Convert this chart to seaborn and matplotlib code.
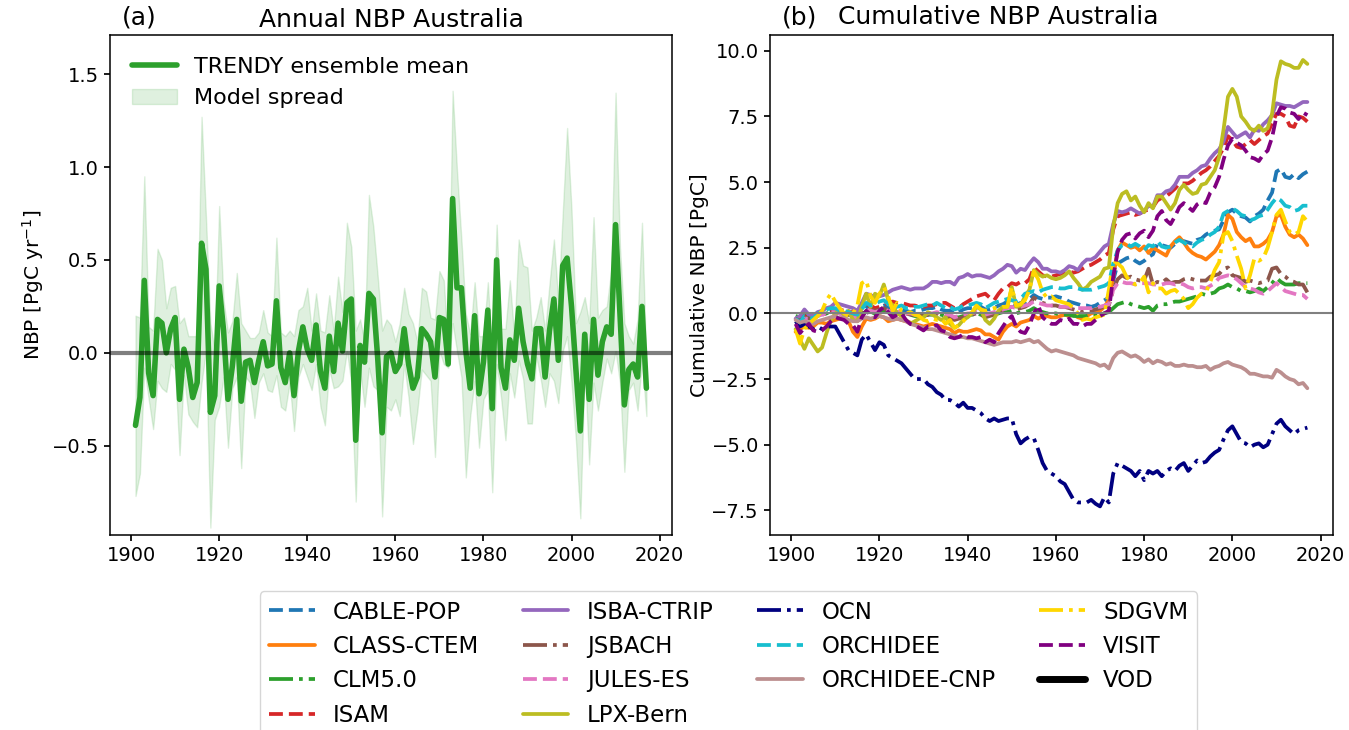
import matplotlib
matplotlib.use("Agg")
import matplotlib.pyplot as plt
import seaborn as sns
from matplotlib.patches import Patch
from matplotlib.lines import Line2D

# ---------------- data ----------------
years = list(range(1901, 2018))

ens_mean = [
    -0.39, -0.24, 0.39, -0.11, -0.23, 0.18, 0.16, 0.00, 0.13, 0.19,
    -0.25, 0.02, -0.08, -0.24, -0.16, 0.59, 0.45, -0.32, -0.23, 0.36,
    0.12, -0.25, -0.07, 0.18, -0.26, -0.05, -0.04, -0.16, -0.04, 0.06,
    -0.07, -0.06, 0.28, -0.08, -0.16, 0.00, -0.23, 0.01, 0.14, 0.02,
    -0.04, 0.15, -0.10, -0.19, 0.09, -0.10, 0.16, 0.01, 0.27, 0.29,
    -0.47, 0.04, -0.05, 0.32, 0.29, -0.03, -0.43, -0.02, 0.00, -0.10,
    -0.06, 0.13, -0.06, -0.19, -0.13, 0.13, 0.10, 0.06, -0.13, 0.19,
    0.18, -0.06, 0.83, 0.35, 0.35, 0.01, -0.19, 0.20, -0.22, -0.05,
    0.23, -0.30, 0.50, -0.08, -0.19, 0.07, -0.04, 0.24, 0.06, -0.06,
    -0.14, 0.13, 0.13, -0.13, 0.12, 0.29, -0.04, 0.47, 0.51, 0.25,
    -0.09, -0.42, 0.10, -0.25, 0.18, -0.12, 0.06, 0.14, 0.10, 0.69,
    0.21, -0.28, -0.09, -0.06, -0.13, 0.25, -0.19]

spread_max = [
    0.20, 0.19, 0.95, 0.14, 0.12, 0.56, 0.50, 0.24, 0.35, 0.36,
    0.16, 0.19, 0.09, 0.09, 0.09, 1.27, 0.73, 0.16, 0.01, 0.79,
    0.28, 0.11, 0.17, 0.43, 0.16, 0.12, 0.08, 0.08, 0.11, 0.23,
    0.11, 0.09, 0.62, 0.11, 0.09, 0.12, 0.09, 0.23, 0.25, 0.35,
    0.12, 0.32, 0.12, 0.11, 0.31, 0.12, 0.41, 0.22, 0.70, 0.57,
    0.12, 0.18, 0.06, 0.85, 0.68, 0.41, 0.12, 0.18, 0.15, 0.06,
    0.16, 0.35, 0.21, 0.16, 0.06, 0.35, 0.33, 0.19, 0.18, 0.44,
    0.39, 0.01, 1.41, 0.98, 0.61, 0.21, 0.10, 0.38, 0.09, 0.09,
    0.38, -0.02, 0.69, 0.13, 0.13, 0.39, 0.09, 0.61, 0.47, 0.46,
    0.12, 0.19, 0.30, 0.12, 0.37, 0.61, 0.28, 0.75, 1.21, 0.77,
    0.16, 0.22, 0.30, 0.16, 0.73, 0.19, 0.23, 0.25, 0.44, 1.40,
    0.57, 0.16, 0.09, 0.05, 0.18, 0.70, -0.06]

spread_min = [
    -0.77, -0.65, -0.08, -0.25, -0.41, -0.15, -0.19, -0.21, -0.06, -0.09,
    -0.55, -0.12, -0.33, -0.37, -0.40, -0.16, 0.01, -0.94, -0.36, -0.29,
    -0.13, -0.51, -0.19, -0.13, -0.62, -0.13, -0.16, -0.35, -0.16, -0.11,
    -0.20, -0.21, -0.12, -0.29, -0.31, -0.16, -0.42, -0.13, -0.06, -0.13,
    -0.20, -0.06, -0.29, -0.39, -0.09, -0.19, -0.18, -0.15, 0.01, -0.16,
    -0.80, -0.09, -0.29, -0.08, -0.18, -0.20, -0.88, -0.29, -0.31, -0.25,
    -0.34, -0.06, -0.24, -0.49, -0.31, -0.09, -0.12, -0.15, -0.56, 0.01,
    -0.06, -0.08, 0.16, 0.01, -0.13, -0.67, -0.34, -0.15, -0.51, -0.25,
    -0.20, -0.75, -0.06, -0.24, -0.47, -0.11, -0.24, -0.04, -0.14, -0.38,
    -0.38, -0.02, -0.14, -0.29, -0.11, -0.15, -0.27, 0.01, 0.09, -0.16,
    -0.47, -0.89, -0.06, -0.60, -0.16, -0.31, -0.16, -0.03, -0.11, 0.01,
    -0.16, -0.64, -0.20, -0.16, -0.31, -0.04, -0.34]

cable_pop = [
    -0.2, -0.3, -0.1, -0.15, -0.2, -0.05, 0.0, 0.05, 0.1, 0.1,
    0.05, 0.0, 0.0, -0.05, -0.1, 0.1, 0.25, 0.2, 0.15, 0.25,
    0.3, 0.2, 0.2, 0.15, 0.15, 0.1, 0.05, 0.1, 0.1, 0.15,
    0.2, 0.2, 0.25, 0.15, 0.1, 0.1, 0.0, 0.05, 0.15, 0.2,
    0.2, 0.3, 0.25, 0.15, 0.15, 0.2, 0.3, 0.35, 0.45, 0.4,
    0.3, 0.4, 0.4, 0.55, 0.7, 0.6, 0.55, 0.6, 0.6, 0.65,
    0.6, 0.55, 0.45, 0.4, 0.35, 0.3, 0.3, 0.25, 0.3, 0.4,
    0.5, 0.6, 1.25, 1.9, 2.0, 2.1, 2.15, 2.0, 1.9, 2.0,
    2.15, 2.25, 2.65, 2.6, 2.55, 2.5, 2.65, 2.8, 2.75, 2.7,
    2.65, 2.8, 2.85, 3.0, 3.1, 3.15, 3.2, 3.55, 3.85, 3.95,
    3.8, 3.7, 3.65, 3.5, 3.7, 3.8, 3.95, 4.3, 4.6, 5.4,
    5.5, 5.2, 5.15, 5.3, 5.15, 5.3, 5.4]

class_ctem = [
    -0.7, -0.6, -0.5, -0.55, -0.5, -0.35, -0.35, -0.4, -0.3, -0.25,
    -0.2, -0.15, -0.3, -0.7, -0.9, -0.5, -0.2, -0.25, -0.2, -0.1,
    -0.15, -0.3, -0.25, -0.2, -0.25, -0.3, -0.35, -0.4, -0.45, -0.5,
    -0.45, -0.4, -0.45, -0.5, -0.55, -0.6, -0.75, -0.65, -0.7, -0.7,
    -0.65, -0.6, -0.65, -0.8, -0.8, -0.9, -1.0, -0.7, -0.5, -0.4,
    -0.5, -0.35, -0.3, -0.25, -0.1, -0.2, -0.1, -0.1, -0.15, -0.15,
    -0.1, -0.05, -0.1, -0.05, -0.15, -0.2, -0.1, 0.0, 0.05, 0.1,
    0.25, 0.5, 1.4, 2.4, 2.7, 2.6, 2.5, 2.55, 2.4, 2.55,
    2.3, 2.5, 2.4, 2.3, 2.2, 2.55, 2.75, 2.9, 2.7, 2.45,
    2.3, 2.2, 2.15, 2.05, 2.2, 2.35, 2.6, 3.0, 3.75, 3.6,
    3.1, 2.9, 2.75, 2.85, 2.55, 2.55, 2.65, 2.8, 3.1, 3.7,
    3.75, 3.3, 3.0, 2.9, 3.0, 2.85, 2.6]

clm50 = [
    -0.1, -0.15, -0.1, -0.1, -0.15, -0.1, -0.05, 0.0, 0.05, 0.05,
    0.0, 0.0, -0.05, -0.05, -0.1, 0.0, 0.05, 0.05, 0.0, 0.05,
    0.1, 0.05, 0.0, 0.0, 0.0, -0.05, -0.05, -0.1, -0.1, -0.1,
    -0.05, -0.05, 0.0, -0.05, -0.1, -0.1, -0.15, -0.15, -0.1, -0.05,
    -0.05, 0.0, -0.05, -0.1, -0.05, -0.05, 0.0, 0.05, 0.05, 0.1,
    0.0, 0.05, 0.05, 0.1, 0.2, 0.1, 0.05, 0.0, 0.0, 0.0,
    -0.05, -0.05, -0.05, -0.1, -0.1, -0.1, -0.1, -0.05, -0.05, 0.0,
    0.0, 0.05, 0.2, 0.35, 0.4, 0.45, 0.35, 0.3, 0.25, 0.2,
    0.25, 0.1, 0.3, 0.35, 0.35, 0.4, 0.45, 0.45, 0.5, 0.55,
    0.6, 0.65, 0.75, 0.7, 0.75, 0.8, 0.95, 1.0, 1.1, 1.0,
    0.95, 0.85, 0.85, 0.8, 0.85, 0.95, 0.85, 1.0, 1.15, 1.35,
    1.2, 1.1, 1.1, 1.1, 1.15, 1.15, 1.15]

isam = [
    -0.25, -0.3, -0.1, -0.2, -0.1, 0.0, 0.05, 0.1, 0.05, 0.1,
    0.15, 0.1, 0.05, 0.05, 0.1, 0.2, 0.35, 0.3, 0.2, 0.25,
    0.35, 0.4, 0.45, 0.4, 0.4, 0.35, 0.3, 0.3, 0.25, 0.25,
    0.3, 0.3, 0.35, 0.4, 0.4, 0.3, 0.2, 0.2, 0.35, 0.45,
    0.55, 0.65, 0.7, 0.75, 0.6, 0.5, 0.75, 0.95, 1.0, 1.15,
    1.1, 1.2, 1.15, 1.3, 1.75, 1.6, 1.45, 1.4, 1.4, 1.45,
    1.5, 1.55, 1.6, 1.55, 1.6, 1.7, 1.8, 1.85, 1.95, 2.05,
    2.2, 2.3, 3.2, 3.7, 3.75, 3.8, 3.85, 3.75, 3.8, 3.9,
    3.95, 4.05, 4.3, 4.4, 4.45, 4.6, 4.75, 4.95, 4.95, 4.95,
    5.05, 5.2, 5.35, 5.45, 5.6, 5.8, 6.0, 6.3, 6.75, 6.6,
    6.35, 6.3, 6.45, 6.6, 6.45, 6.6, 6.75, 6.85, 7.25, 7.6,
    7.6, 7.5, 7.15, 7.1, 7.5, 7.45, 7.3]

isba_ctrip = [
    -0.2, -0.1, 0.15, -0.05, -0.1, 0.05, 0.1, 0.2, 0.25, 0.4,
    0.35, 0.3, 0.25, 0.2, 0.1, 0.4, 0.75, 0.7, 0.6, 0.65,
    0.7, 0.8, 0.9, 0.95, 1.0, 0.95, 0.9, 0.95, 0.95, 0.95,
    1.05, 1.2, 1.2, 1.15, 1.2, 1.2, 1.1, 1.35, 1.4, 1.5,
    1.4, 1.45, 1.45, 1.4, 1.35, 1.45, 1.6, 1.7, 1.85, 1.8,
    1.55, 1.7, 1.65, 1.9, 2.1, 1.95, 1.7, 1.7, 1.6, 1.6,
    1.55, 1.65, 1.8, 1.75, 1.65, 1.9, 2.05, 2.05, 2.15, 2.35,
    2.55, 2.65, 3.4, 3.9, 3.85, 3.9, 4.0, 3.9, 3.8, 3.9,
    4.1, 4.05, 4.5, 4.5, 4.65, 4.7, 4.9, 5.2, 5.2, 5.2,
    5.35, 5.45, 5.6, 5.65, 5.9, 6.1, 6.25, 6.55, 7.1, 6.9,
    6.7, 6.8, 6.9, 6.7, 7.0, 6.95, 7.2, 7.35, 7.55, 8.0,
    7.95, 7.9, 7.9, 7.85, 7.95, 8.05, 8.05]

jsbach = [
    -0.2, -0.3, -0.15, -0.2, -0.2, -0.1, -0.05, 0.0, 0.05, 0.05,
    0.0, 0.0, -0.05, -0.1, -0.1, 0.05, 0.2, 0.15, 0.1, 0.15,
    0.2, 0.1, 0.05, 0.05, 0.0, 0.0, -0.05, -0.05, -0.1, -0.1,
    -0.05, -0.05, 0.0, -0.1, -0.15, -0.15, -0.25, -0.2, -0.15, -0.1,
    -0.05, 0.0, -0.05, -0.15, -0.1, -0.05, 0.05, 0.1, 0.2, 0.25,
    0.15, 0.2, 0.25, 0.35, 0.6, 0.5, 0.4, 0.35, 0.3, 0.3,
    0.25, 0.25, 0.2, 0.15, 0.1, 0.05, 0.1, 0.1, 0.15, 0.2,
    0.25, 0.3, 0.9, 1.3, 1.45, 1.35, 1.4, 1.3, 1.25, 1.25,
    1.7, 1.1, 1.2, 1.15, 1.3, 1.15, 1.2, 1.2, 1.3, 1.35,
    1.3, 1.25, 1.25, 1.25, 1.4, 1.45, 1.5, 1.7, 1.75, 1.45,
    1.4, 1.35, 1.2, 1.25, 1.2, 1.15, 1.2, 1.25, 1.7, 1.75,
    1.5, 1.4, 1.25, 1.2, 1.1, 1.1, 0.8]

jules_es = [
    -0.3, -0.35, -0.2, -0.2, -0.25, -0.1, -0.05, 0.0, 0.05, 0.05,
    0.0, -0.05, -0.1, -0.15, -0.15, 0.0, 0.15, 0.1, 0.05, 0.1,
    0.15, 0.1, 0.05, 0.05, 0.05, 0.0, 0.0, -0.05, -0.05, -0.05,
    0.0, 0.0, 0.05, 0.0, -0.05, -0.05, -0.15, -0.1, -0.05, 0.0,
    0.0, 0.05, 0.0, -0.05, 0.0, 0.05, 0.1, 0.15, 0.2, 0.25,
    0.2, 0.25, 0.3, 0.35, 0.45, 0.4, 0.35, 0.3, 0.3, 0.3,
    0.25, 0.25, 0.25, 0.2, 0.2, 0.2, 0.2, 0.2, 0.25, 0.25,
    0.3, 0.35, 0.9, 1.15, 1.2, 1.15, 1.15, 1.1, 1.15, 1.15,
    1.15, 1.1, 1.1, 1.1, 1.15, 1.15, 1.1, 1.15, 1.1, 1.0,
    0.95, 1.0, 1.0, 0.95, 1.05, 1.15, 1.35, 1.4, 1.45, 1.4,
    1.3, 1.15, 1.0, 0.95, 0.9, 0.8, 0.75, 0.85, 1.0, 1.15,
    1.0, 0.85, 0.8, 0.75, 0.7, 0.7, 0.55]

lpx_bern = [
    -0.6, -1.0, -1.35, -0.95, -1.2, -1.45, -1.3, -0.75, -0.25, 0.0,
    0.1, -0.05, 0.1, -0.25, -0.3, 0.25, 0.75, 0.25, 0.75, 0.65,
    1.1, 0.5, 0.3, 0.0, -0.1, -0.25, -0.4, -0.3, -0.2, -0.15,
    0.05, -0.05, -0.15, -0.25, -0.15, -0.4, -0.55, -0.45, -0.25, -0.15,
    0.0, 0.25, 0.15, -0.25, -0.4, -0.2, 0.1, 0.25, 0.25, 1.0,
    0.25, 0.3, 0.65, 0.9, 1.65, 1.5, 1.4, 1.45, 1.35, 1.3,
    1.35, 1.45, 1.6, 1.35, 1.15, 0.9, 1.0, 1.2, 1.3, 1.4,
    1.7, 1.75, 3.3, 4.2, 4.55, 4.65, 4.3, 4.45, 4.1, 3.85,
    4.2, 4.0, 4.45, 4.45, 4.2, 3.95, 4.2, 4.7, 4.9, 4.7,
    4.55, 4.6, 4.9, 4.95, 5.2, 5.45, 5.95, 7.0, 8.25, 8.55,
    8.25, 7.5, 7.3, 7.05, 6.95, 7.15, 6.95, 7.05, 7.6, 8.9,
    9.6, 9.5, 9.45, 9.35, 9.35, 9.65, 9.5]

ocn = [
    -0.3, -0.5, -0.4, -0.5, -0.6, -0.5, -0.6, -0.5, -0.5, -0.5,
    -0.8, -1.1, -1.4, -1.5, -1.6, -1.0, -0.8, -1.1, -1.4, -1.1,
    -1.2, -1.6, -1.7, -1.8, -1.9, -2.1, -2.3, -2.5, -2.5, -2.5,
    -2.7, -2.8, -3.0, -3.1, -3.3, -3.3, -3.4, -3.55, -3.4, -3.6,
    -3.6, -3.7, -3.8, -4.0, -4.1, -4.0, -4.1, -4.05, -4.0, -4.0,
    -4.6, -4.95, -4.8, -4.7, -4.75, -5.2, -5.7, -6.0, -6.1, -6.2,
    -6.4, -6.5, -6.8, -7.1, -7.2, -7.2, -7.2, -7.1, -7.25, -7.35,
    -7.0, -7.2, -6.1, -5.7, -5.8, -5.9, -6.0, -6.2, -6.0, -6.35,
    -6.0, -6.1, -6.0, -6.2, -6.0, -5.9, -6.0, -5.8, -5.7, -6.0,
    -5.8, -5.6, -5.7, -5.65, -5.45, -5.3, -5.2, -4.8, -4.45, -4.3,
    -4.6, -4.9, -4.95, -5.1, -5.0, -4.95, -5.1, -5.0, -4.6, -4.2,
    -4.05, -4.3, -4.45, -4.6, -4.45, -4.4, -4.35]

orchidee = [
    -0.2, -0.35, -0.1, -0.15, -0.2, 0.0, 0.05, 0.15, 0.2, 0.2,
    0.1, 0.1, 0.05, 0.0, -0.05, 0.15, 0.4, 0.3, 0.35, 0.45,
    0.5, 0.35, 0.3, 0.25, 0.3, 0.2, 0.2, 0.25, 0.25, 0.3,
    0.35, 0.3, 0.4, 0.3, 0.2, 0.25, 0.15, 0.2, 0.3, 0.3,
    0.35, 0.4, 0.35, 0.2, 0.3, 0.4, 0.45, 0.5, 0.55, 0.5,
    0.45, 0.55, 0.75, 0.8, 0.85, 0.8, 0.9, 0.95, 1.0, 1.0,
    0.95, 0.95, 1.0, 1.0, 0.95, 0.9, 0.9, 0.9, 0.95, 1.0,
    1.05, 1.15, 1.9, 2.4, 2.6, 2.65, 2.55, 2.65, 2.55, 2.4,
    2.6, 2.55, 2.75, 2.55, 2.5, 2.55, 2.7, 2.8, 2.7, 2.6,
    2.55, 2.7, 2.8, 2.85, 3.0, 3.1, 3.3, 3.8, 3.9, 4.0,
    3.9, 3.75, 3.7, 3.55, 3.6, 3.7, 3.75, 3.95, 4.2, 4.4,
    4.3, 4.1, 4.05, 3.9, 3.95, 4.1, 4.1]

orchidee_cnp = [
    -0.25, -0.35, -0.3, -0.35, -0.4, -0.3, -0.25, -0.2, -0.15, -0.1,
    -0.2, -0.15, -0.25, -0.3, -0.3, -0.2, -0.15, -0.2, -0.15, -0.1,
    -0.15, -0.2, -0.25, -0.2, -0.25, -0.3, -0.4, -0.45, -0.5, -0.55,
    -0.6, -0.6, -0.65, -0.7, -0.75, -0.8, -0.85, -0.9, -0.9, -0.95,
    -0.95, -1.0, -1.05, -1.1, -1.15, -1.2, -1.15, -1.1, -1.1, -1.1,
    -1.05, -1.1, -1.05, -1.0, -1.1, -1.05, -1.2, -1.35, -1.45, -1.4,
    -1.45, -1.5, -1.55, -1.6, -1.7, -1.75, -1.8, -1.85, -1.9, -2.0,
    -1.95, -2.1, -1.7, -1.5, -1.45, -1.55, -1.65, -1.6, -1.7, -1.85,
    -1.75, -1.9, -1.8, -1.85, -1.95, -1.9, -2.0, -2.0, -1.95, -2.0,
    -2.0, -2.05, -2.05, -2.0, -2.15, -2.05, -2.0, -1.9, -1.85, -1.95,
    -2.0, -2.05, -2.15, -2.3, -2.3, -2.35, -2.4, -2.4, -2.45, -2.15,
    -2.25, -2.4, -2.5, -2.55, -2.7, -2.65, -2.85]

sdgvm = [
    -0.6, -1.15, -0.6, -0.4, -0.25, -0.1, 0.1, 0.5, 0.75, 0.45,
    0.2, 0.0, -0.1, 0.0, 0.3, 1.15, 1.25, 0.65, 0.4, 0.75,
    1.0, 0.65, 0.1, 0.4, 0.1, 0.0, 0.05, -0.05, -0.1, -0.25,
    -0.3, -0.2, -0.25, -0.2, -0.4, -0.25, -0.55, -0.45, -0.3, -0.1,
    0.05, 0.3, 0.15, 0.1, 0.15, 0.2, 0.2, 0.25, 0.25, 1.0,
    0.3, 0.35, 0.5, 0.9, 1.6, 1.3, 0.8, 0.6, 0.65, 0.5,
    0.45, 0.4, 0.35, 0.2, 0.0, -0.25, -0.2, -0.25, -0.15, -0.1,
    -0.05, 0.9, 2.0, 1.9, 1.75, 1.4, 1.2, 1.1, 1.15, 1.4,
    0.8, 1.15, 0.95, 0.95, 0.75, 0.85, 0.9, 0.75, 0.55, 0.2,
    0.35, 0.6, 0.75, 0.8, 1.2, 1.65, 1.95, 3.0, 3.1, 2.75,
    2.2, 1.7, 0.95, 1.45, 2.1, 2.0, 2.1, 2.5, 3.1, 3.75,
    3.95, 3.5, 3.1, 3.0, 3.1, 3.7, 3.5]

visit = [
    -0.4, -0.75, -0.55, -0.4, -0.65, -0.7, -0.65, -0.5, -0.3, -0.15,
    -0.2, -0.25, -0.4, -0.45, -0.7, -0.15, 0.1, -0.05, -0.15, 0.1,
    0.25, 0.05, -0.15, -0.05, 0.0, -0.25, -0.4, -0.45, -0.55, -0.65,
    -0.5, -0.5, -0.45, -0.65, -0.7, -0.9, -0.95, -0.9, -0.8, -0.9,
    -0.9, -0.95, -0.9, -1.1, -1.0, -1.1, -0.75, -0.5, -0.25, -0.1,
    -0.5, -0.7, -0.75, -0.45, 0.0, 0.3, -0.15, -0.3, -0.4, -0.4,
    -0.25, -0.3, -0.2, -0.4, -0.4, -0.5, -0.4, -0.4, -0.25, -0.1,
    0.0, 0.1, 1.4, 2.35, 2.8, 3.0, 3.05, 2.85, 3.05, 3.15,
    2.9, 3.15, 3.7, 3.9, 3.55, 3.4, 3.7, 4.05, 4.2, 4.05,
    3.9, 4.15, 4.25, 4.2, 4.6, 4.8, 5.2, 5.85, 6.4, 6.65,
    6.5, 6.4, 6.2, 5.95, 5.9, 5.8, 6.05, 6.2, 6.7, 7.5,
    7.85, 7.8, 7.65, 7.6, 7.4, 7.65, 7.55]

vod = []  # shown in legend only

model_names = ["CABLE-POP", "CLASS-CTEM", "CLM5.0", "ISAM", "ISBA-CTRIP",
               "JSBACH", "JULES-ES", "LPX-Bern", "OCN", "ORCHIDEE",
               "ORCHIDEE-CNP", "SDGVM", "VISIT", "VOD"]
model_series = [cable_pop, class_ctem, clm50, isam, isba_ctrip, jsbach,
                jules_es, lpx_bern, ocn, orchidee, orchidee_cnp, sdgvm,
                visit, vod]
model_colors = ["tab:blue", "tab:orange", "tab:green", "tab:red", "tab:purple",
                "tab:brown", "tab:pink", "tab:olive", "navy", "tab:cyan",
                "rosybrown", "gold", "purple", "black"]
model_styles = ["--", "-", "-.", "--", "-", "-.", "--", "-", "-.", "--",
                "-", "-.", "--", "-"]

# ---------------- style ----------------
sns.set_theme(style="ticks")
plt.rcParams["font.family"] = ["DejaVu Sans"]
plt.rcParams["axes.edgecolor"] = "black"
plt.rcParams["axes.linewidth"] = 1.1
plt.rcParams["xtick.major.size"] = 4.5
plt.rcParams["ytick.major.size"] = 4.5
plt.rcParams["xtick.color"] = "black"
plt.rcParams["ytick.color"] = "black"
plt.rcParams["text.color"] = "black"
plt.rcParams["axes.labelcolor"] = "black"

fig = plt.figure(figsize=(13.49, 7.30), dpi=100)
ax1 = fig.add_axes([0.0815, 0.2671, 0.4166, 0.6849])
ax2 = fig.add_axes([0.5708, 0.2671, 0.4173, 0.6849])

green = "#2ca02c"
tick_fs = 14
label_fs = 14.5
title_fs = 18

# ---------------- panel (a) ----------------
ax1.fill_between(years, spread_min, spread_max, color=green, alpha=0.15, lw=1)
sns.lineplot(x=years, y=ens_mean, ax=ax1, color=green, lw=4)
ax1.axhline(0, color="black", alpha=0.5, lw=3)
ax1.set_xlim(1895.2, 2022.8)
ax1.set_ylim(-0.98, 1.71)
ax1.set_xticks([1900, 1920, 1940, 1960, 1980, 2000, 2020])
ax1.set_yticks([-0.5, 0.0, 0.5, 1.0, 1.5])
ax1.tick_params(labelsize=tick_fs)
ax1.set_ylabel("NBP [PgC yr$^{-1}$]", fontsize=label_fs)
ax1.set_xlabel("")
ax1.set_title("Annual NBP Australia", fontsize=title_fs, pad=6)
ax1.text(0.021, 1.012, "(a)", transform=ax1.transAxes, fontsize=title_fs,
         ha="left", va="bottom")
leg_handles = [Line2D([], [], color=green, lw=4),
               Patch(facecolor=green, alpha=0.15, edgecolor=green)]
ax1.legend(leg_handles, ["TRENDY ensemble mean", "Model spread"],
           loc="upper left", frameon=False, fontsize=16, borderaxespad=0.6)

# ---------------- panel (b) ----------------
for name, vals, col, ls in zip(model_names, model_series, model_colors, model_styles):
    if len(vals) > 0:
        sns.lineplot(x=years, y=vals, ax=ax2, color=col, linestyle=ls, lw=2.7,
                     label=name, legend=False)
    else:
        ax2.plot([], [], color=col, linestyle=ls, lw=5, label=name)
ax2.axhline(0, color="gray", lw=1.5)
ax2.set_xlim(1895.2, 2022.8)
ax2.set_ylim(-8.44, 10.6)
ax2.set_xticks([1900, 1920, 1940, 1960, 1980, 2000, 2020])
ax2.set_yticks([-7.5, -5.0, -2.5, 0.0, 2.5, 5.0, 7.5, 10.0])
ax2.tick_params(labelsize=tick_fs)
ax2.set_ylabel("Cumulative NBP [PgC]", fontsize=label_fs, labelpad=2)
ax2.set_xlabel("")
ax2.text(0.405, 1.012, "Cumulative NBP Australia", transform=ax2.transAxes,
         fontsize=title_fs, ha="center", va="bottom")
ax2.text(0.021, 1.012, "(b)", transform=ax2.transAxes, fontsize=title_fs,
         ha="left", va="bottom")

handles, labels = ax2.get_legend_handles_labels()
if ax2.get_legend() is not None:
    ax2.get_legend().remove()
fig.legend(handles, labels, loc="lower center", ncol=4,
           bbox_to_anchor=(0.54, -0.024), fontsize=16.5, frameon=True,
           edgecolor="#cccccc", columnspacing=1.9, labelspacing=0.5)

fig.savefig("out.png", dpi=100)
